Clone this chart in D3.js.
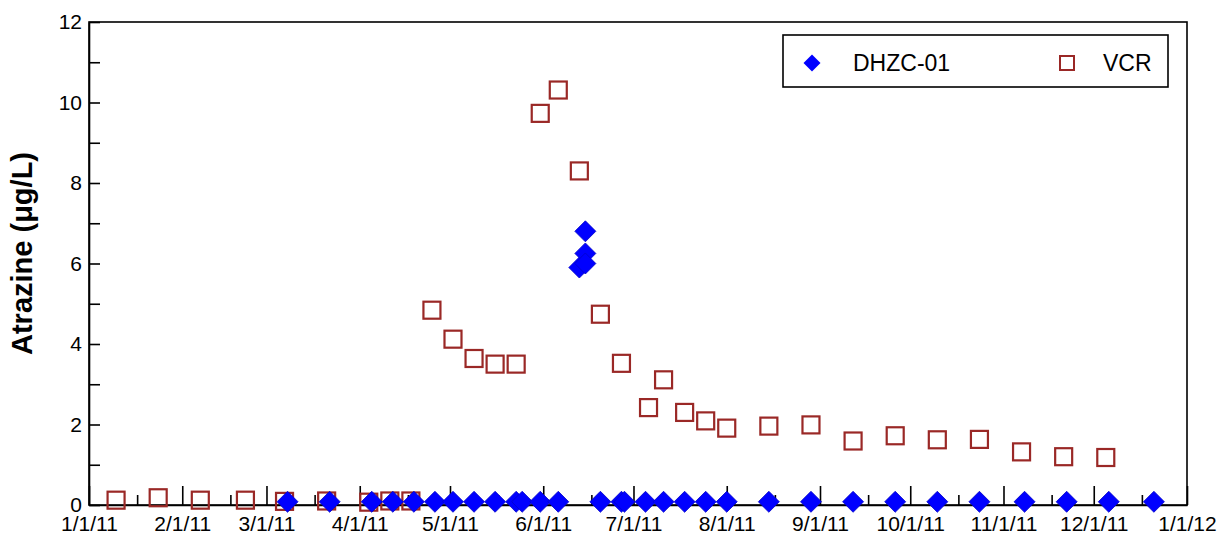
<!DOCTYPE html>
<html>
<head>
<meta charset="utf-8">
<script src="https://cdn.jsdelivr.net/npm/d3@7"></script>
<style>
  html, body { margin: 0; padding: 0; background: #fff; }
  svg { display: block; font-family: "Liberation Sans", Arial, sans-serif; }
</style>
</head>
<body>
<svg id="chart" width="1220" height="548"></svg>
<script>
// Atrazine concentrations, 2011
const vcrDates = ["2011-01-10","2011-01-24","2011-02-07","2011-02-22","2011-03-07","2011-03-21",
  "2011-04-04","2011-04-11","2011-04-18","2011-04-25","2011-05-02","2011-05-09","2011-05-16",
  "2011-05-23","2011-05-31","2011-06-06","2011-06-13","2011-06-20","2011-06-27","2011-07-06",
  "2011-07-11","2011-07-18","2011-07-25","2011-08-01","2011-08-15","2011-08-29","2011-09-12",
  "2011-09-26","2011-10-10","2011-10-24","2011-11-07","2011-11-21","2011-12-05"];
const vcrValues = [0.12,0.18,0.12,0.12,0.09,0.10,
  0.07,0.10,0.10,4.84,4.12,3.64,3.50,
  3.50,9.73,10.31,8.30,4.74,3.52,2.42,
  3.11,2.30,2.09,1.91,1.96,1.99,1.59,
  1.72,1.62,1.63,1.32,1.20,1.18];

const dhzcDates = ["2011-03-08","2011-03-22","2011-04-05","2011-04-12","2011-04-19","2011-04-26",
  "2011-05-02","2011-05-09","2011-05-16","2011-05-23","2011-05-25","2011-05-31","2011-06-06",
  "2011-06-13","2011-06-15","2011-06-15","2011-06-15","2011-06-20","2011-06-27","2011-06-28",
  "2011-07-05","2011-07-11","2011-07-18","2011-07-25","2011-08-01","2011-08-15","2011-08-29",
  "2011-09-12","2011-09-26","2011-10-10","2011-10-24","2011-11-08","2011-11-22","2011-12-06",
  "2011-12-21"];
const dhzcValues = [0.08,0.08,0.08,0.08,0.08,0.08,
  0.08,0.08,0.08,0.08,0.08,0.08,0.08,
  5.90,6.80,6.25,6.00,0.08,0.08,0.08,
  0.08,0.08,0.08,0.08,0.08,0.08,0.08,
  0.08,0.08,0.08,0.08,0.08,0.08,0.08,
  0.08];

const yTicks = [0, 2, 4, 6, 8, 10, 12];
const seriesNames = ["DHZC-01", "VCR"];
const xStart = "2011-01-01", xEnd = "2012-01-01";

const parse = d3.timeParse("%Y-%m-%d");
const fmt = d => `${d.getMonth() + 1}/${d.getDate()}/${String(d.getFullYear()).slice(2)}`;

const svg = d3.select("#chart");
const plotL = 89, plotR = 1187, plotT = 22, plotB = 505;

const x = d3.scaleTime().domain([parse(xStart), parse(xEnd)]).range([plotL, plotR]);
const y = d3.scaleLinear().domain([0, 12]).range([plotB, plotT]);

const red = "#9a2826", blue = "#0000ff";
const font = "'Liberation Sans', Arial, sans-serif";

// frame
svg.append("rect")
  .attr("x", plotL).attr("y", plotT)
  .attr("width", plotR - plotL).attr("height", plotB - plotT)
  .attr("fill", "none").attr("stroke", "#000").attr("stroke-width", 1.6);

// x axis: month ticks (tall) and mid-month ticks (short), pointing inward
const months = d3.timeMonth.range(parse(xStart), d3.timeDay.offset(parse(xEnd), 1));
const mids = d3.timeMonth.range(parse(xStart), parse(xEnd)).map(m => d3.timeDay.offset(m, 16));

svg.append("g").attr("transform", `translate(0,${plotB})`)
  .call(d3.axisBottom(x).tickValues(months).tickSize(-19).tickSizeOuter(0).tickFormat(fmt).tickPadding(11))
  .call(g => g.select(".domain").attr("stroke-width", 1.6))
  .call(g => g.selectAll(".tick line").attr("stroke-width", 1.6))
  .call(g => g.selectAll(".tick text").attr("font-size", 21).attr("fill", "#000").attr("font-family", font));
svg.append("g").attr("transform", `translate(0,${plotB})`)
  .call(d3.axisBottom(x).tickValues(mids).tickSize(-10).tickSizeOuter(0).tickFormat(""))
  .call(g => g.select(".domain").remove())
  .call(g => g.selectAll(".tick line").attr("stroke-width", 1.6));

// y axis
svg.append("g").attr("transform", `translate(${plotL},0)`)
  .call(d3.axisLeft(y).tickValues(yTicks).tickSize(-11).tickSizeOuter(0).tickPadding(7)
    .tickFormat(d3.format("d")))
  .call(g => g.select(".domain").attr("stroke-width", 1.6))
  .call(g => g.selectAll(".tick line").attr("stroke-width", 1.6))
  .call(g => g.selectAll(".tick text").attr("font-size", 21).attr("fill", "#000").attr("font-family", font));
svg.append("g").attr("transform", `translate(${plotL},0)`)
  .call(d3.axisLeft(y).tickValues(d3.range(1, 12, 2)).tickSize(-11).tickFormat(""))
  .call(g => g.select(".domain").remove())
  .call(g => g.selectAll(".tick line").attr("stroke-width", 1.6));

// y title
svg.append("text")
  .attr("transform", `translate(32,${(plotT + plotB) / 2 - 10}) rotate(-90)`)
  .attr("text-anchor", "middle")
  .attr("font-size", 29).attr("font-weight", "bold")
  .text("Atrazine (μg/L)");

// markers
const diamond = s => `M0,${-s}L${s},0L0,${s}L${-s},0Z`;

const vcr = vcrDates.map((d, i) => ({ date: parse(d), value: vcrValues[i] }));
const dhzc = dhzcDates.map((d, i) => ({ date: parse(d), value: dhzcValues[i] }));

const sq = 17;
svg.append("g").selectAll("rect").data(vcr).join("rect")
  .attr("x", d => x(d.date) - sq / 2).attr("y", d => y(d.value) - sq / 2)
  .attr("width", sq).attr("height", sq)
  .attr("fill", "none").attr("stroke", red).attr("stroke-width", 2.2);

svg.append("g").selectAll("path").data(dhzc).join("path")
  .attr("transform", d => `translate(${x(d.date)},${y(d.value)})`)
  .attr("d", diamond(10.5))
  .attr("fill", blue).attr("stroke", "#0000c8").attr("stroke-width", 0.8);

// legend
const lg = svg.append("g");
lg.append("rect").attr("x", 783).attr("y", 35).attr("width", 385).attr("height", 52)
  .attr("fill", "#fff").attr("stroke", "#000").attr("stroke-width", 1.6);
lg.append("path").attr("transform", "translate(812,63)").attr("d", diamond(8.5))
  .attr("fill", blue);
lg.append("text").attr("x", 853).attr("y", 71).attr("font-size", 23).text(seriesNames[0]);
lg.append("rect").attr("x", 1060).attr("y", 56).attr("width", 14).attr("height", 14)
  .attr("fill", "none").attr("stroke", red).attr("stroke-width", 2);
lg.append("text").attr("x", 1103).attr("y", 71).attr("font-size", 23).text(seriesNames[1]);
</script>
</body>
</html>
